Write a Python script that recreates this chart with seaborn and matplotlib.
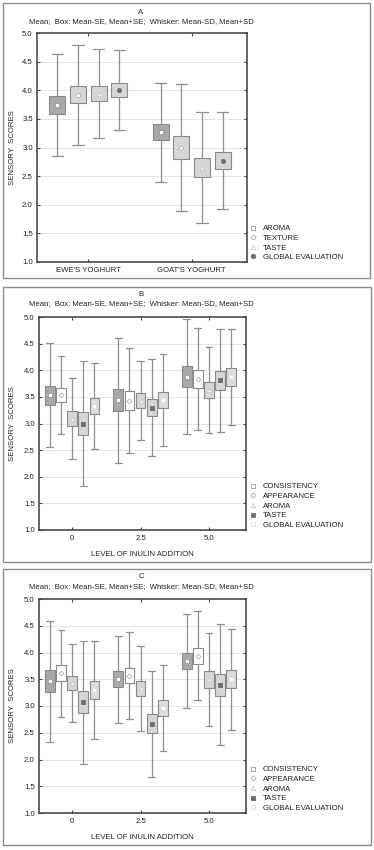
import numpy as np
import pandas as pd
import matplotlib
matplotlib.use("Agg")
import matplotlib.pyplot as plt
from matplotlib.lines import Line2D
from matplotlib.patches import Rectangle
import seaborn as sns

# ---------------- data ----------------
# Panel A: yoghurt type
groups_a = ["EWE'S YOGHURT", "GOAT'S YOGHURT"]
series_a = ["AROMA", "TEXTURE", "TASTE", "GLOBAL EVALUATION"]
mean_a = [[3.74, 3.27], [3.92, 3.00], [3.94, 2.65], [4.00, 2.77]]
se_a = [[0.155, 0.145], [0.150, 0.195], [0.135, 0.170], [0.125, 0.150]]
sd_a = [[0.890, 0.865], [0.875, 1.105], [0.780, 0.975], [0.695, 0.850]]

# Panel B / C: inulin level
groups_bc = ["0", "2.5", "5.0"]
series_bc = ["CONSISTENCY", "APPEARANCE", "AROMA", "TASTE", "GLOBAL EVALUATION"]
mean_b = [[3.53, 3.44, 3.88], [3.53, 3.43, 3.84], [3.09, 3.43, 3.63],
          [3.00, 3.30, 3.81], [3.33, 3.44, 3.87]]
se_b = [[0.180, 0.210, 0.200], [0.135, 0.175, 0.165], [0.140, 0.140, 0.150],
        [0.215, 0.165, 0.175], [0.150, 0.155, 0.170]]
sd_b = [[0.975, 1.175, 1.085], [0.735, 0.980, 0.955], [0.760, 0.735, 0.815],
        [1.175, 0.915, 0.970], [0.805, 0.860, 0.905]]

mean_c = [[3.46, 3.50, 3.84], [3.61, 3.57, 3.94], [3.43, 3.33, 3.50],
          [3.07, 2.67, 3.40], [3.30, 2.97, 3.50]]
se_c = [[0.205, 0.150, 0.150], [0.150, 0.145, 0.150], [0.135, 0.140, 0.155],
        [0.210, 0.175, 0.205], [0.170, 0.150, 0.170]]
sd_c = [[1.135, 0.815, 0.875], [0.815, 0.820, 0.835], [0.725, 0.800, 0.865],
        [1.145, 0.990, 1.135], [0.915, 0.805, 0.940]]

subtitle = "Mean;  Box: Mean-SE, Mean+SE;  Whisker: Mean-SD, Mean+SD"
ylabel = "SENSORY  SCORES"
xlabel_bc = "LEVEL OF INULIN ADDITION"

# ---------------- style ----------------
sns.set_theme(style="white")
plt.rcParams["font.family"] = ["Liberation Sans", "DejaVu Sans"]
FS = 5.6
TXT = "#222222"
W, H = 374, 850
fig = plt.figure(figsize=(W / 100, H / 100), dpi=100)
fig.patch.set_facecolor("white")

DARK_BOX = "#a9a9a9"
LIGHT_BOX = "#d6d6d6"
WHITE_BOX = "#ffffff"
EDGE = "#8a8a8a"

style_a = {
    "AROMA": dict(box=DARK_BOX, marker="s", mfc="white", mec="#9a9a9a", s=9),
    "TEXTURE": dict(box=LIGHT_BOX, marker="o", mfc="white", mec="#b0b0b0", s=9),
    "TASTE": dict(box=LIGHT_BOX, marker="^", mfc="white", mec="#c8c8c8", s=9),
    "GLOBAL EVALUATION": dict(box=LIGHT_BOX, marker="o", mfc="#6e6e6e", mec="#6e6e6e", s=9),
}
style_bc = {
    "CONSISTENCY": dict(box=DARK_BOX, marker="s", mfc="white", mec="#9a9a9a", s=9),
    "APPEARANCE": dict(box=WHITE_BOX, marker="D", mfc="white", mec="#b0b0b0", s=6),
    "AROMA": dict(box=LIGHT_BOX, marker="^", mfc="white", mec="#c8c8c8", s=9),
    "TASTE": dict(box=LIGHT_BOX, marker="s", mfc="#6e6e6e", mec="#6e6e6e", s=9),
    "GLOBAL EVALUATION": dict(box="#dcdcdc", marker="s", mfc="white", mec="#dddddd", s=9),
}


def px_rect(x0, y0, x1, y1):
    return [x0 / W, 1 - y1 / H, (x1 - x0) / W, (y1 - y0) / H]


def draw_panel(rect_px, frame_px, letter, title_y, groups, series, means, ses, sds,
               styles, step, width, xlim, legend_center_y, xlabel=None):
    # outer frame
    fx0, fy0, fx1, fy1 = frame_px
    fig.add_artist(Rectangle((fx0 / W, 1 - fy1 / H), (fx1 - fx0) / W, (fy1 - fy0) / H,
                             transform=fig.transFigure, fill=False, ec="#8c8c8c", lw=1.0))
    ax = fig.add_axes(px_rect(*rect_px))
    n = len(series)
    rows = []
    for j, s in enumerate(series):
        for i, g in enumerate(groups):
            rows.append(dict(series=s, group=g, gi=i,
                             pos=i + (j - (n - 1) / 2) * step,
                             mean=means[j][i], se=ses[j][i], sd=sds[j][i]))
    df = pd.DataFrame(rows)

    # gridlines
    for y in np.arange(1.5, 5.0, 0.5):
        ax.axhline(y, color="#e2e2e2", lw=0.6, zorder=0)

    # boxes (mean +- SE) and whiskers (mean +- SD)
    for s in series:
        sub = df[df.series == s]
        stats = [dict(med=r.mean, q1=r.mean - r.se, q3=r.mean + r.se,
                      whislo=r.mean - r.sd, whishi=r.mean + r.sd, fliers=[], label="")
                 for r in sub.itertuples()]
        ax.bxp(stats, positions=sub.pos.values, widths=width, patch_artist=True,
               showfliers=False, manage_ticks=False,
               boxprops=dict(facecolor=styles[s]["box"], edgecolor=EDGE, lw=0.8),
               whiskerprops=dict(color="#8f8f8f", lw=0.9),
               capprops=dict(color="#8f8f8f", lw=0.9),
               capwidths=width * 0.7,
               medianprops=dict(lw=0))

    # mean markers via seaborn
    for s in series:
        sub = df[df.series == s]
        st = styles[s]
        sns.scatterplot(data=sub, x="pos", y="mean", marker=st["marker"], s=st["s"],
                        color=st["mfc"], edgecolor=st["mec"], linewidth=0.6,
                        ax=ax, zorder=5, legend=False)

    ax.set_xlim(*xlim)
    ax.set_ylim(1.0, 5.0)
    ax.set_xticks(range(len(groups)))
    ax.set_xticklabels(groups)
    ax.set_yticks(np.arange(1.0, 5.01, 0.5))
    ax.set_yticklabels([f"{v:.1f}" for v in np.arange(1.0, 5.01, 0.5)])
    ax.tick_params(axis="both", direction="in", length=2.5, width=0.8, color="#444444",
                   labelsize=FS, labelcolor=TXT, top=True, right=True, bottom=True, left=True)
    ax.tick_params(axis="y", pad=3)
    ax.tick_params(axis="x", pad=3.5)
    for sp in ax.spines.values():
        sp.set_color("#4a4a4a")
        sp.set_linewidth(1.2)
        sp.set_visible(True)
    ax.set_xlabel(xlabel if xlabel else "", fontsize=FS, color=TXT, labelpad=6.5)
    ax.set_ylabel(ylabel, fontsize=FS, color=TXT)
    x0, y0, x1, y1 = rect_px
    ax.yaxis.set_label_coords((16 - x0) / (x1 - x0), 0.5)

    # titles
    cx = 141 / W
    fig.text(cx, 1 - title_y / H, letter, ha="center", va="center", fontsize=FS, color=TXT)
    fig.text(cx, 1 - (title_y + 10) / H, subtitle, ha="center", va="center",
             fontsize=FS, color=TXT)

    # legend
    handles = [Line2D([], [], ls="none", marker=styles[s]["marker"],
                      ms=3.2 if styles[s]["marker"] != "D" else 2.6,
                      mfc=styles[s]["mfc"], mec=styles[s]["mec"], mew=0.6) for s in series]
    fig.legend(handles, series, loc="center left",
               bbox_to_anchor=(249 / W, 1 - legend_center_y / H),
               frameon=False, fontsize=FS, handlelength=1.0, handletextpad=0.8,
               labelspacing=0.28, borderpad=0, borderaxespad=0, labelcolor=TXT)
    return ax


draw_panel((37, 33, 247, 262), (3, 3, 370, 278), "A", 12, groups_a, series_a,
           mean_a, se_a, sd_a, style_a, 0.2, 0.155, (-0.497, 1.536), 243)
draw_panel((39, 317, 246, 530), (3, 287, 371, 562), "B", 294, groups_bc, series_bc,
           mean_b, se_b, sd_b, style_bc, 0.163, 0.142, (-0.485, 2.54), 506, xlabel_bc)
draw_panel((39, 599, 246, 813), (3, 569, 371, 845), "C", 577, groups_bc, series_bc,
           mean_c, se_c, sd_c, style_bc, 0.163, 0.142, (-0.485, 2.54), 789, xlabel_bc)

fig.savefig("out.png", dpi=100, facecolor="white")
